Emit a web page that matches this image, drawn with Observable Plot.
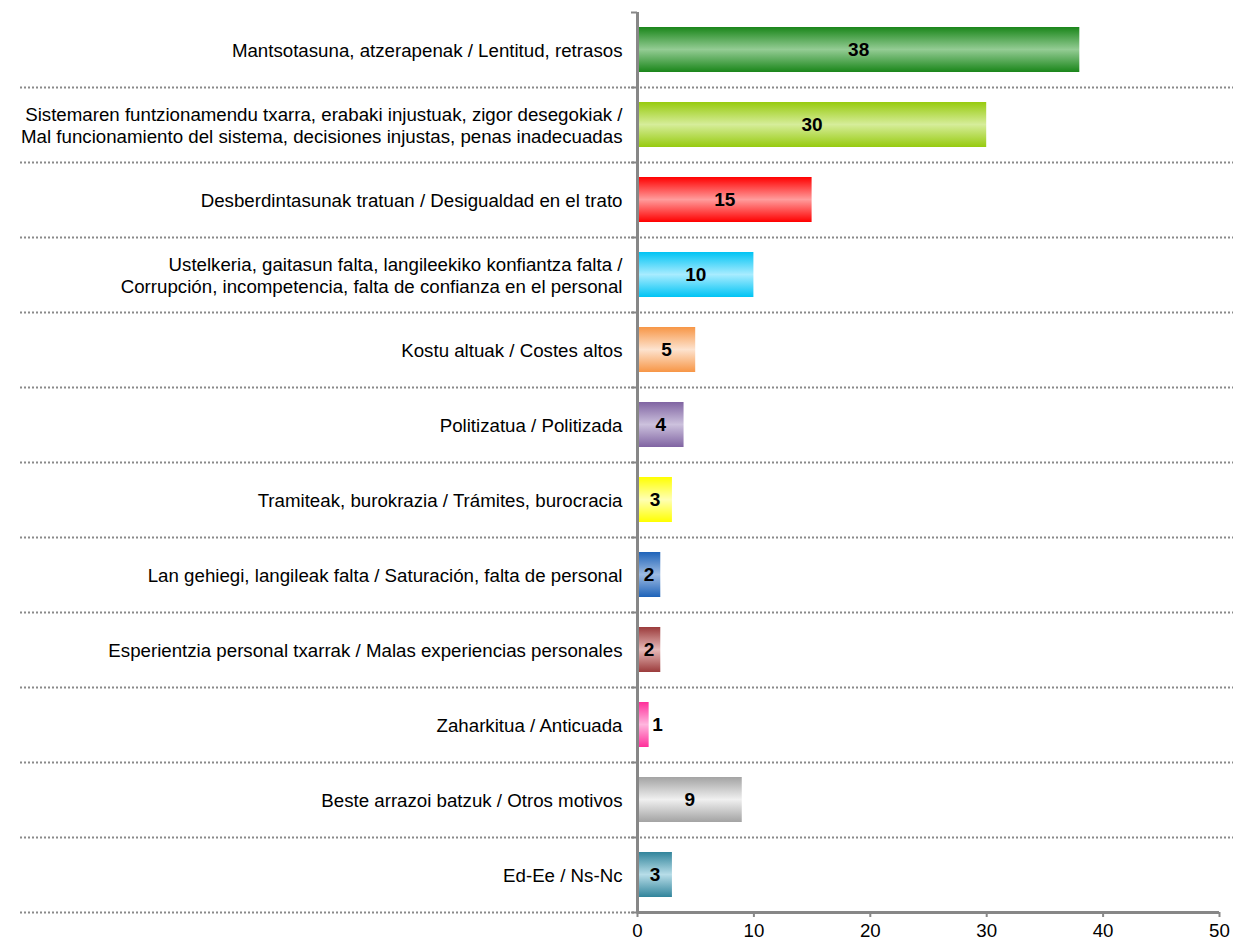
<!DOCTYPE html>
<html>
<head>
<meta charset="utf-8">
<script src="https://cdn.jsdelivr.net/npm/d3@7"></script>
<script src="https://cdn.jsdelivr.net/npm/@observablehq/plot@0.6"></script>
<style>
  html, body { margin: 0; padding: 0; background: #fff; }
  svg { display: block; }
</style>
</head>
<body>
<div id="chart"></div>
<script>
const categories = [
  "Mantsotasuna, atzerapenak / Lentitud, retrasos",
  "Sistemaren funtzionamendu txarra, erabaki injustuak, zigor desegokiak /\nMal funcionamiento del sistema, decisiones injustas, penas inadecuadas",
  "Desberdintasunak tratuan / Desigualdad en el trato",
  "Ustelkeria, gaitasun falta, langileekiko konfiantza falta /\nCorrupción, incompetencia, falta de confianza en el personal",
  "Kostu altuak / Costes altos",
  "Politizatua / Politizada",
  "Tramiteak, burokrazia / Trámites, burocracia",
  "Lan gehiegi, langileak falta / Saturación, falta de personal",
  "Esperientzia personal txarrak / Malas experiencias personales",
  "Zaharkitua / Anticuada",
  "Beste arrazoi batzuk / Otros motivos",
  "Ed-Ee / Ns-Nc"
];
const values = [38, 30, 15, 10, 5, 4, 3, 2, 2, 1, 9, 3];
const xTicks = [0, 10, 20, 30, 40, 50];
const darkColors = ["#1a861a", "#97cb0e", "#ff0000", "#00c4f4", "#f79646", "#8064a2", "#ffff00", "#1e63b9", "#9b3b3b", "#ff2f9a", "#a3a3a3", "#31849b"];
const lightColors = ["#94cc94", "#d6ed9a", "#ff9c9c", "#a8ecff", "#fde3cf", "#ccc1dd", "#ffffb4", "#9dbbe2", "#e6b9b8", "#ffb6de", "#f0f0f0", "#b7dde8"];

const data = categories.map((c, i) => ({cat: c, value: values[i], grad: `url(#barGrad${i})`}));

const W = 1233, H = 941;
const FONT = "'Liberation Sans', Arial, sans-serif";
const axisGrey = "#878787";

const plot = Plot.plot({
  width: W,
  height: H,
  marginLeft: 637,
  marginRight: 14,
  marginTop: 12,
  marginBottom: 29,
  style: {fontFamily: FONT, fontSize: "18.7px", color: "#000", background: "#fff"},
  x: {domain: [0, 50], ticks: xTicks, axis: null},
  y: {domain: categories, paddingInner: 0.4, paddingOuter: 0.2, axis: null},
  color: {type: "identity"},
  marks: [
    // dotted separators at bottom of each category band
    Plot.ruleY(data.slice(0, -1), {y: "cat", dy: 37.5, stroke: "#8a8a8a", strokeWidth: 2, strokeDasharray: "2,2", insetLeft: -617, insetRight: -14}),
    Plot.ruleY(data.slice(-1), {y: "cat", dy: 37.5, x1: 0, x2: 0, stroke: "#8a8a8a", strokeWidth: 2, strokeDasharray: "2,2", insetLeft: -617}),
    // bars
    Plot.barX(data, {y: "cat", x: "value", fill: "grad"}),
    // value labels inside
    Plot.text(data.filter(d => d.value >= 2), {y: "cat", x: d => d.value / 2, text: d => String(d.value), fontWeight: "bold", fontSize: 19, fill: "#000"}),
    // value labels outside for very short bars
    Plot.text(data.filter(d => d.value < 2), {y: "cat", x: "value", text: d => String(d.value), fontWeight: "bold", fontSize: 19, fill: "#000", textAnchor: "start", dx: 3}),
    // category labels
    Plot.text(data, {y: "cat", x: 0, text: "cat", textAnchor: "end", dx: -15, fontSize: 18.7, lineHeight: 1.15, fill: "#000"}),
    // y axis line
    Plot.ruleX([0], {stroke: axisGrey, strokeWidth: 3}),
    // y axis boundary ticks
    Plot.ruleY(data, {y: "cat", dy: 37.5, x1: 0, x2: 0, insetLeft: -6, stroke: axisGrey, strokeWidth: 2}),
    Plot.ruleY(data.slice(0, 1), {y: "cat", dy: -37.5, x1: 0, x2: 0, insetLeft: -6, stroke: axisGrey, strokeWidth: 2}),
    // x axis line
    Plot.ruleY(data.slice(-1), {y: "cat", dy: 37.5, x1: 0, x2: 50, stroke: axisGrey, strokeWidth: 3}),
    // x axis ticks and labels
    Plot.axisX({ticks: xTicks, tickSize: 5, tickPadding: 6, stroke: axisGrey, strokeWidth: 2, fill: "#000", fontSize: 18.7, label: null})
  ]
});

// gradient defs
const svg = d3.select(plot);
const defs = svg.insert("defs", ":first-child");
darkColors.forEach((dc, i) => {
  const g = defs.append("linearGradient").attr("id", `barGrad${i}`).attr("x1", 0).attr("y1", 0).attr("x2", 0).attr("y2", 1);
  g.append("stop").attr("offset", "0%").attr("stop-color", dc);
  g.append("stop").attr("offset", "50%").attr("stop-color", lightColors[i]);
  g.append("stop").attr("offset", "100%").attr("stop-color", dc);
});

document.getElementById("chart").appendChild(plot);
</script>
</body>
</html>
